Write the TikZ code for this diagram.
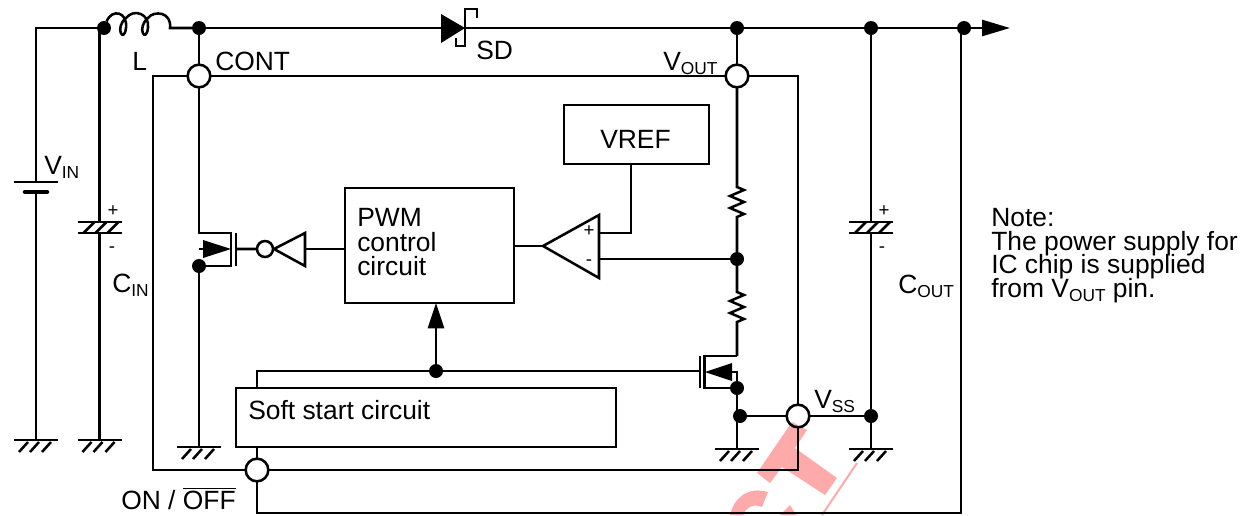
\documentclass[tikz,border=0pt]{standalone}
\usepackage{fontspec}
\setmainfont{Liberation Sans}
\usetikzlibrary{calc}
\usetikzlibrary{arrows.meta}
\definecolor{wmark}{RGB}{255,170,170}
\newcommand{\subtxt}[1]{\raisebox{-3pt}{\fontsize{13}{13}\selectfont #1}}
\setlength{\lineskiplimit}{-10pt}
\setlength{\normallineskiplimit}{-10pt}

\begin{document}
\begin{tikzpicture}[
     x=0.75pt,y=-0.75pt,
     line width=1.9pt,
     lbl/.style={inner sep=0pt,anchor=base west,font=\fontsize{19.8}{22}\selectfont},
     sgn/.style={inner sep=0pt,font=\fontsize{14}{14}\selectfont},
     pin/.style={circle,draw,fill=white,inner sep=0pt,outer sep=0pt,minimum size=17pt},
     dot/.style={circle,fill=black,inner sep=0pt,outer sep=0pt,minimum size=10.5pt},
     blk/.style={draw,inner sep=0pt,outer sep=0pt,anchor=north west},
     hd/.style={-{Triangle[length=19pt,width=12pt]}},
     gnd/.pic={
       \draw (-22,0) -- (22,0);
       \foreach \i in {-8,3,15} \draw (\i,2) -- ++(-9,10);
     },
     polcap/.pic={
       \draw (-22,-5.5) -- (22,-5.5) (-22,5.5) -- (22,5.5);
       \foreach \i in {-5,7,19} \draw (\i,-5.5) -- ++(-11,11);
     }
   ]
   \path[use as bounding box] (0,0) rectangle (1257,515);
   % Junctions and pins.
   \node[dot] (dIn) at (104,28) {};
   \node[dot] (dCont) at (199,28) {};
   \node[dot] (dOut) at (737,28) {};
   \node[dot] (dCap) at (871,28) {};
   \node[dot] (dEnd) at (964,28) {};
   \node[dot] (dDiv) at (737,259) {};
   \node[dot] (dGate) at (436,371) {};
   \node[dot] (dSrcA) at (199,266) {};
   \node[dot] (dSrcB) at (737,388) {};
   \node[dot] (dSs) at (740,416) {};
   \node[dot] (dSsR) at (871,416) {};
   \node[pin] (pCont) at (199,76) {};
   \node[pin] (pOut) at (737,76) {};
   \node[pin] (pSs) at (798,416) {};
   \node[pin] (pOn) at (257,470) {};
   % Blocks.
   \node[blk,minimum width=126.8pt,minimum height=86.2pt] (pwm) at (345,188) {};
   \node[blk,minimum width=108.8pt,minimum height=44.2pt] (vref) at (564,105) {};
   \node[blk,minimum width=285pt,minimum height=44.2pt] (soft) at (236,388) {};
   \node[lbl] (tVref) at (599,148) {VREF};
   \node[lbl] (tPwmA) at (356,226) {PWM};
   \node[lbl] (tPwmB) at (356,251) {control};
   \node[lbl] (tPwmC) at (356,275) {circuit};
   \node[lbl] (tSoft) at (247,419) {Soft start circuit};
   % Input side.
   \coordinate (tl) at (36,28);
   \coordinate (batTop) at (36,182);
   \coordinate (batBot) at (36,192);
   \coordinate (gIn) at (36,440);
   \coordinate (cInA) at (99.5,28);
   \coordinate (cInB) at (99.5,222);
   \coordinate (cInC) at (99.5,233);
   \coordinate (gCin) at (99.5,440);
   \draw (dIn) -- (tl) -- (batTop) (batBot) -- (gIn);
   \draw (cInA) -- (cInB) (cInC) -- (gCin);
   \draw (14,182) -- (58,182);
   \draw[line width=3.4pt,line cap=round] (25,192) -- (47,192);
   \pic at (gIn) {gnd};
   \pic at (gCin) {gnd};
   \pic at (99.5,227.5) {polcap};
   % Inductor.
   \draw (dIn) .. controls (112,8) and (128,12) .. (126,28) .. controls (124,44) and (114,28) .. (126,18)
     .. controls (134,8) and (150,14) .. (148,28) .. controls (146,44) and (136,28) .. (148,18)
     .. controls (154,10) and (172,12) .. (170,28) -- (dCont);
   % Top rail with diode.
   \coordinate (arrowEnd) at (1010,28);
   \coordinate (diodeIn) at (441,28);
   \coordinate (diodeOut) at (465,28);
   \draw (dCont) -- (diodeIn) (diodeOut) -- (dOut) -- (dCap) -- (dEnd);
   \draw[-{Triangle[length=21pt,width=12pt]}] (dEnd) -- (arrowEnd);
   \fill (441,14) -- (465,28) -- (441,43) -- cycle;
   \draw (456,38) -- (456,46) -- (465,46) -- (465,9) -- (477,9) -- (477,18);
   % Chip outline.
   \coordinate (icTl) at (153,76);
   \coordinate (icTr) at (798,76);
   \coordinate (icBl) at (153,470);
   \coordinate (icBr) at (798,470);
   \draw (pCont) -- (icTl) -- (icBl) -- (pOn);
   \draw (pCont) -- (pOut) -- (icTr) -- (pSs) -- (icBr) -- (pOn);
   \draw (dCont) -- (pCont) (dOut) -- (pOut);
   % Switch and inverter.
   \coordinate (swD) at (199,233);
   \coordinate (gSw) at (199,447);
   \draw (pCont) -- (swD) -- (231,233) -- (231,266) -- (dSrcA) -- (gSw);
   \draw (199,249) -- (204,249);
   \fill (203,240) -- (231,249) -- (203,258) -- cycle;
   \draw (236,233) -- (236,266);
   \node[circle,draw,inner sep=0pt,outer sep=0pt,minimum size=12pt] (bub) at (265,249) {};
   \coordinate (invIn) at (305,249);
   \draw (236,249) -- (bub) (bub) -- (274,249) -- (305,233) -- (305,266) -- (274,249);
   \draw (invIn) -- (pwm.west |- invIn);
   \pic at (gSw) {gnd};
   % Amplifier.
   \coordinate (ampTip) at (543,246);
   \draw (pwm.east |- ampTip) -- (ampTip);
   \draw (ampTip) -- (599,215) -- (599,278) -- cycle;
   \node[sgn] (ampP) at (589,231) {+};
   \node[sgn] (ampM) at (589,263) {-};
   \coordinate (vrefIn) at (631,233);
   \draw (599,233) -- (vrefIn) -- (vref.south -| vrefIn);
   \draw (dDiv -| 599,0) -- (dDiv);
   % Divider.
   \draw (pOut) -- (737,185) -- ++(0,2) -- ++(7,3) -- ++(-14,6) -- ++(14,6) -- ++(-14,6) -- ++(14,6) -- ++(-7,3) -- (737,220) -- (dDiv);
   \draw (dDiv) -- (737,290) -- ++(0,2) -- ++(7,3) -- ++(-14,6) -- ++(14,6) -- ++(-14,6) -- ++(14,6) -- ++(-7,3) -- (737,356);
   % Lower transistor.
   \coordinate (gGnd) at (737,449);
   \draw (737,356) -- (704.5,356) -- (704.5,388) -- (dSrcB);
   \draw (700,356) -- (700,388);
   \fill (705,372) -- (732,363) -- (732,381) -- cycle;
   \draw (732,372) -- (737,372) -- (dSrcB) -- (gGnd);
   \draw (dSs) -- (pSs) -- (dSsR);
   \pic at (gGnd) {gnd};
   % Soft start and enable.
   \coordinate (softUp) at (257,371);
   \coordinate (gateEnd) at (700,371);
   \draw (soft.north -| softUp) -- (softUp) -- (dGate) -- (gateEnd);
   \draw[hd] (dGate) -- (pwm.south -| dGate);
   \coordinate (onBot) at (257,513);
   \coordinate (rBot) at (961,513);
   \draw (soft.south -| pOn) -- (pOn) -- (onBot) -- (rBot) -- (961,28);
   % Output capacitor.
   \coordinate (gOut) at (871,449);
   \draw (dCap) -- (871,222) (871,233) -- (gOut);
   \pic at (871,227.5) {polcap};
   \pic at (gOut) {gnd};
   % Labels.
   \node[lbl] (tVin) at (43,174) {V\subtxt{IN}};
   \node[lbl] (tL) at (131,70) {L};
   \node[lbl] (tCont) at (214,70) {CONT};
   \node[lbl] (tSd) at (475,59) {SD};
   \node[lbl] (tVout) at (662,70) {V\subtxt{OUT}};
   \node[lbl] (tCin) at (111,292) {C\subtxt{IN}};
   \node[lbl] (tCout) at (897,293) {C\subtxt{OUT}};
   \node[lbl] (tVss) at (813,408) {V\subtxt{SS}};
   \node[lbl] (tOn) at (120,509) {ON / $\overline{\mbox{OFF}}$};
   \node[sgn] (capInP) at (113,211) {+};
   \node[sgn] (capInM) at (112,250) {-};
   \node[sgn] (capOutP) at (884,211) {+};
   \node[sgn] (capOutM) at (882,250) {-};
   \node[inner sep=0pt,anchor=north west,align=left,font=\fontsize{19.8}{17.8}\selectfont] (tNote) at (990,207) {Note:\\The power supply for\\IC chip is supplied\\from V\subtxt{OUT} pin.};
   % Watermark.
   \begin{scope}[blend mode=multiply]
     \fill[wmark] (792,422) -- (807,430) -- (795,448) -- (837,478) -- (825,495) -- (782,467) -- (770,483) -- (757,473) -- cycle;
     \draw[wmark,line width=1.5pt] (857,463) -- (822,515);
     \fill[wmark] (730,515) .. controls (734,498) and (748,486) .. (768,492) -- (762,507) .. controls (752,503) and (746,508) .. (743,515) -- cycle;
     \fill[wmark] (780,515) -- (790,505) -- (796,515) -- cycle;
   \end{scope}
 \end{tikzpicture}
\end{document}
